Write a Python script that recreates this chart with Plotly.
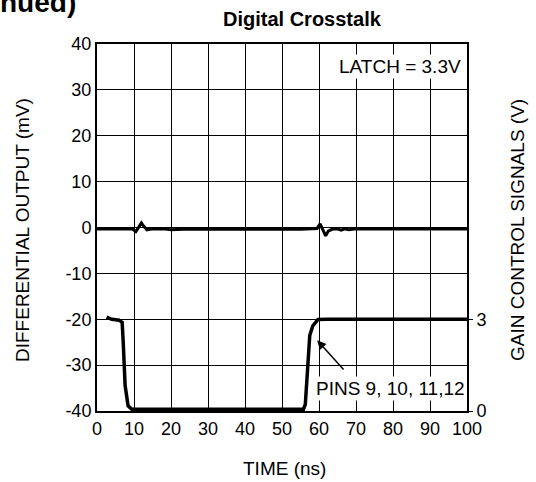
import plotly.graph_objects as go

# Differential output (mV)
diff_x = [0, 2, 4, 6, 8, 9.5, 10.5, 11.3, 12, 12.7, 13.5, 15, 18, 20, 25, 30, 35, 40, 45, 50, 55, 58,
          59.5, 60.3, 61, 61.8, 62.5, 63.5, 65, 66, 67, 68, 70, 75, 80, 85, 90, 95, 100]
diff_y = [-0.3, -0.3, -0.2, -0.3, -0.3, -0.3, -0.9, 0.2, 1.0, 0.2, -0.5, -0.3, -0.3, -0.5, -0.3, -0.4,
          -0.3, -0.4, -0.3, -0.3, -0.4, -0.3, -0.2, 0.8, -0.5, -1.8, -0.8, -0.4, -0.3, -0.6, -0.3, -0.5,
          -0.3, -0.3, -0.4, -0.3, -0.3, -0.3, -0.3]

# Gain control signal (V)
gain_x = [2.6, 4, 6.0, 6.8, 7.1, 7.6, 8.4, 9.4, 12, 20, 30, 40, 50, 55.8, 56.3, 56.7, 57.0, 57.5,
          58.3, 59.0, 59.7, 62, 70, 80, 90, 100]
gain_v = [3.07, 3.0, 2.97, 2.9, 2.22, 0.83, 0.17, 0.06, 0.06, 0.06, 0.06, 0.06, 0.06, 0.06, 0.22,
          0.97, 1.95, 2.47, 2.78, 2.91, 2.99, 3.0, 3.0, 3.0, 3.0, 3.0]

x_ticks = [0, 10, 20, 30, 40, 50, 60, 70, 80, 90, 100]
y_ticks = [-40, -30, -20, -10, 0, 10, 20, 30, 40]
y_tick_text = ["-40", "-30", "-20", "-10", "0", "10", "20", "30", "40"]
y2_ticks = [0, 3]

FONT = "Liberation Sans, Arial, sans-serif"
W, H = 536, 482
L, R, T, B = 97, 69, 44, 71
PW, PH = W - L - R, H - T - B


def px(xp):
    return (xp - L) / PW


def py(yp):
    return 1 - (yp - T) / PH


fig = go.Figure()
fig.add_trace(go.Scatter(x=diff_x, y=diff_y, mode="lines",
                         line=dict(color="black", width=3), showlegend=False, hoverinfo="skip"))
fig.add_trace(go.Scatter(x=gain_x, y=gain_v, mode="lines", yaxis="y2",
                         line=dict(color="black", width=3.5), showlegend=False, hoverinfo="skip"))

fig.update_layout(
    width=W, height=H,
    margin=dict(l=L, r=R, t=T, b=B, autoexpand=False),
    paper_bgcolor="white", plot_bgcolor="white",
    font=dict(family=FONT, size=18, color="black"),
    xaxis=dict(range=[0, 100], tickvals=x_ticks, showgrid=True, gridcolor="black", gridwidth=1,
               zeroline=False, showline=True, linecolor="black", linewidth=2, mirror=True,
               ticks="", tickfont=dict(size=18)),
    yaxis=dict(range=[-40, 40], tickvals=y_ticks, ticktext=y_tick_text, showgrid=True,
               gridcolor="black", gridwidth=1, zeroline=False, showline=True, linecolor="black",
               linewidth=2, mirror=True, ticks="", tickfont=dict(size=18)),
    yaxis2=dict(range=[0, 12], tickvals=y2_ticks, overlaying="y", side="right", showgrid=False,
                zeroline=False, ticks="outside", ticklen=5, tickcolor="black", tickfont=dict(size=18)),
    annotations=[
        dict(text="<b>Digital Crosstalk</b>", xref="paper", yref="paper", x=px(302), y=py(19),
             showarrow=False, font=dict(size=20), xanchor="center", yanchor="middle"),
        dict(text="<b>nued)</b>", xref="paper", yref="paper", x=px(-2), y=py(2),
             showarrow=False, font=dict(size=28), xanchor="left", yanchor="middle"),
        dict(text="DIFFERENTIAL OUTPUT (mV)", xref="paper", yref="paper", x=px(22), y=py(230),
             showarrow=False, textangle=-90, font=dict(size=19), xanchor="center", yanchor="middle"),
        dict(text="GAIN CONTROL SIGNALS (V)", xref="paper", yref="paper", x=px(517), y=py(230),
             showarrow=False, textangle=-90, font=dict(size=19), xanchor="center", yanchor="middle"),
        dict(text="TIME (ns)", xref="paper", yref="paper", x=px(284), y=py(468),
             showarrow=False, font=dict(size=19), xanchor="center", yanchor="middle"),
        dict(text="LATCH = 3.3V", x=81.9, y=35.2, showarrow=False, bgcolor="white",
             font=dict(size=19), xanchor="center", yanchor="middle"),
        dict(text="PINS 9, 10, 11,12", x=79.2, y=-35.1, showarrow=False, bgcolor="white",
             font=dict(size=19), xanchor="center", yanchor="middle"),
        dict(text="", x=59.5, y=-24.6, ax=67.0, ay=-31.3, axref="x", ayref="y", showarrow=True,
             arrowhead=2, arrowsize=1.2, arrowwidth=1.5, arrowcolor="black"),
    ],
)

fig.write_html("out.html", config={"displayModeBar": False},
               post_script="document.body.style.margin='0px';")
